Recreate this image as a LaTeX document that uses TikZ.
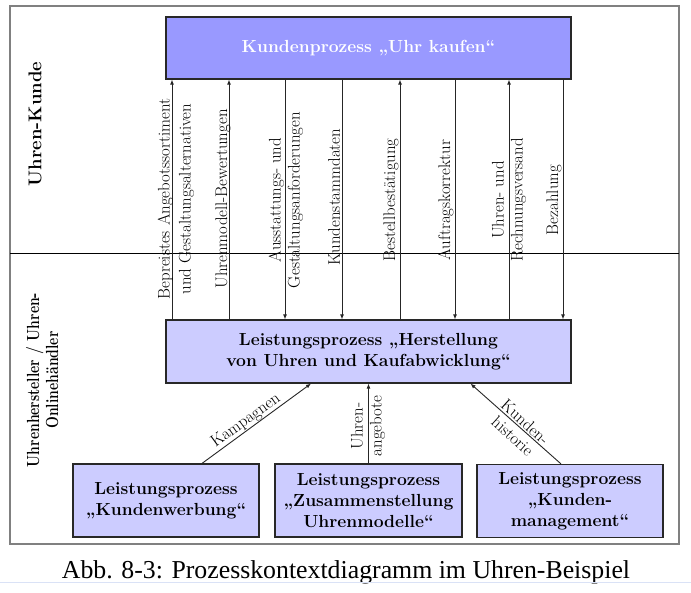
\documentclass[tikz,border=0pt]{standalone}
\usepackage{fontspec}
\newfontfamily\capfont{Liberation Serif}
\usetikzlibrary{arrows.meta}
\definecolor{topfill}{RGB}{153,153,255}
\definecolor{boxfill}{RGB}{204,204,255}
\definecolor{framegray}{RGB}{128,128,128}
\definecolor{edgegray}{RGB}{40,40,40}
\definecolor{rulefaint}{RGB}{218,226,246}
\tikzset{
  procbox/.style={draw=edgegray, line width=1.2pt, fill=boxfill, inner sep=0pt, align=center,
    font=\bfseries\fontsize{17.5}{21}\selectfont},
  topbox/.style={procbox, fill=topfill, text=white},
  sidelbl/.style={inner sep=0pt, align=center, rotate=90, font=\bfseries\fontsize{18.5}{21}\selectfont},
  flowlbl/.style={inner sep=0pt, align=center, font=\fontsize{16.8}{19}\selectfont},
  flow/.style={line width=0.9pt, draw=black!85, -{Latex[length=5pt,width=4pt]}}
}
\begin{document}
\begin{tikzpicture}[x=1pt,y=-1pt]
\useasboundingbox (0,0) rectangle (691,592);
% frame and lane divider
\draw[framegray, line width=1.5pt] (10,6) rectangle (679,544);
\draw[black, line width=1pt] (10,253) -- (679,253);
% lane labels
\node[sidelbl] (uk) at (35,124) {Uhren-Kunde};
\node[sidelbl, font=\bfseries\fontsize{17.5}{20}\selectfont] (uh) at (44.5,380)
  {\scalebox{0.8}[1]{\begin{tabular}{@{}c@{}}Uhrenhersteller / Uhren-\\[-1pt]Onlinehändler\end{tabular}}};
% process boxes
\node[topbox, minimum width=405pt, minimum height=62pt] (kp) at (368.5,48)
  {Kundenprozess „Uhr kaufen“};
\node[procbox, minimum width=405pt, minimum height=63pt] (lp) at (368.5,351.5)
  {Leistungsprozess „Herstellung\\von Uhren und Kaufabwicklung“};
\node[procbox, minimum width=186pt, minimum height=73pt] (b1) at (166,500.5)
  {Leistungsprozess\\„Kundenwerbung“};
\node[procbox, minimum width=187pt, minimum height=73pt] (b2) at (368.5,500.5)
  {Leistungsprozess\\„Zusammenstellung\\Uhrenmodelle“};
\node[procbox, minimum width=186pt, minimum height=73pt] (b3) at (570,501)
  {Leistungsprozess\\„Kunden-\\management“};
% x positions of the vertical flows
\coordinate (v1) at (172,0);
\coordinate (v2) at (229,0);
\coordinate (v3) at (285,0);
\coordinate (v4) at (342,0);
\coordinate (v5) at (400,0);
\coordinate (v6) at (455,0);
\coordinate (v7) at (509,0);
\coordinate (v8) at (563,0);
\draw[flow] (lp.north -| v1) -- (kp.south -| v1);
\draw[flow] (lp.north -| v2) -- (kp.south -| v2);
\draw[flow] (kp.south -| v3) -- (lp.north -| v3);
\draw[flow] (kp.south -| v4) -- (lp.north -| v4);
\draw[flow] (lp.north -| v5) -- (kp.south -| v5);
\draw[flow] (kp.south -| v6) -- (lp.north -| v6);
\draw[flow] (lp.north -| v7) -- (kp.south -| v7);
\draw[flow] (kp.south -| v8) -- (lp.north -| v8);
% labels of the vertical flows
\node[flowlbl, rotate=90] (t1) at (176,199) {Bepreistes Angebotssortiment\\[2pt]und Gestaltungsalternativen};
\node[flowlbl, rotate=90] (t2) at (223,199) {Uhrenmodell-Bewertungen};
\node[flowlbl, rotate=90] (t3) at (286,200) {Ausstattungs- und\\Gestaltungsanforderungen};
\node[flowlbl, rotate=90] (t4) at (334,197) {Kundenstammdaten};
\node[flowlbl, rotate=90] (t5) at (391,200) {Bestellbestätigung};
\node[flowlbl, rotate=90] (t6) at (446,200) {Auftragskorrektur};
\node[flowlbl, rotate=90] (t7) at (509,200) {Uhren- und\\Rechnungsversand};
\node[flowlbl, rotate=90] (t8) at (554,200) {Bezahlung};
% flows from the supporting processes
\draw[flow] ([xshift=36pt]b1.north) -- ([xshift=-57.5pt]lp.south);
\draw[flow] (b2.north) -- (lp.south);
\draw[flow] ([xshift=-9pt]b3.north) -- ([xshift=102pt]lp.south);
\node[flowlbl, rotate=36] (lk) at (246,421) {Kampagnen};
\node[flowlbl, rotate=90] (lu) at (368,426) {Uhren-\\angebote};
\node[flowlbl, rotate=-42] (lh) at (519,429) {Kunden-\\historie};
% caption
\node[font=\capfont\fontsize{25.8}{30}\selectfont, anchor=base, inner sep=0pt] (cap) at (346,578)
  {Abb. 8-3: Prozesskontextdiagramm im Uhren-Beispiel};
\draw[rulefaint, line width=1pt] (0,582.5) -- (691,582.5);
\end{tikzpicture}
\end{document}
